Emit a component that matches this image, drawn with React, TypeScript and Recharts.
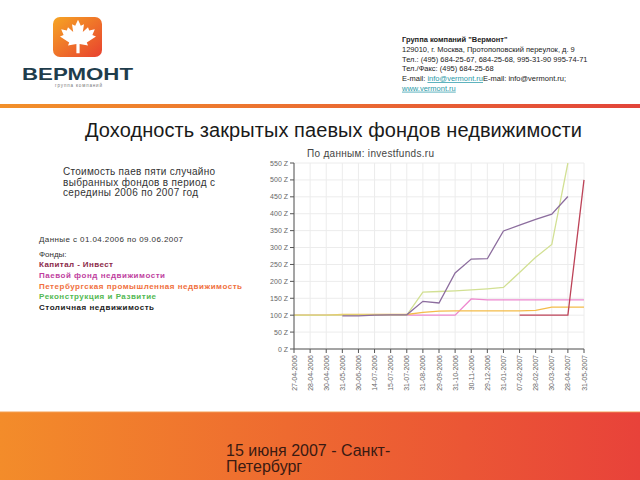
import React from 'react';
import { LineChart, Line, XAxis, YAxis, CartesianGrid } from 'recharts';

const dates = [
  '27-04-2006', '28-04-2006', '30-04-2006', '31-05-2006', '30-06-2006', '14-07-2006',
  '15-07-2006', '31-07-2006', '31-08-2006', '29-09-2006', '31-10-2006', '30-11-2006',
  '29-12-2006', '31-01-2007', '07-02-2007', '28-02-2007', '30-03-2007', '28-04-2007', '31-05-2007',
];

const kapitalInvest = [null, null, null, null, null, null, null, null, null, null, null, null, null, null, 100, 100, 100, 100, 500];
const paevoyFond = [100, 100, 100, 100, 100, 100, 100, 100, 100, 100, 100, 148, 145, 145, 145, 145, 145, 145, 145];
const peterburgskaya = [100, 100, 100, 102, 102, 102, 102, 102, 108, 112, 113, 113, 113, 113, 113, 114, 124, 124, 124];
const rekonstrukciya = [100, 100, 100, 100, 100, 100, 100, 100, 168, 170, 172, 175, 178, 182, 226, 271, 309, 550, null];
const stolichnaya = [null, null, null, 98, 98, 100, 101, 101, 141, 136, 225, 266, 267, 349, 366, 383, 399, 451, null];

const yTicks = [0, 50, 100, 150, 200, 250, 300, 350, 400, 450, 500, 550];

const legendNames = [
  'Капитал - Инвест',
  'Паевой фонд недвижимости',
  'Петербургская промышленная недвижимость',
  'Реконструкция и Развитие',
  'Столичная недвижимость',
];
const legendColors = ['#8b2a4a', '#c03fa0', '#f07040', '#52b852', '#222222'];

const data = dates.map((d, i) => ({
  date: d,
  kapital: kapitalInvest[i],
  paevoy: paevoyFond[i],
  peterb: peterburgskaya[i],
  rekon: rekonstrukciya[i],
  stol: stolichnaya[i],
}));

const FONT = '"Liberation Sans", Arial, sans-serif';

const XTick = (props: any) => {
  const { x, y, payload } = props;
  return (
    <text
      transform={`translate(${x},${y}) rotate(-90)`}
      x={0}
      y={0}
      textAnchor="end"
      dominantBaseline="central"
      fontSize={7}
      fontFamily={FONT}
      fill="#666"
    >
      {payload.value}
    </text>
  );
};

const YTick = (props: any) => {
  const { x, y, payload } = props;
  return (
    <text x={x} y={y} textAnchor="end" dominantBaseline="central" fontSize={7} fontFamily={FONT} fill="#666">
      {`${payload.value} Z`}
    </text>
  );
};

const leafPath =
  'M50,2 L57,18 L65,14 L62,34 L75,22 L78,30 L92,27 L86,42 L95,46 L72,62 L75,70 L54,66 L54,90 L46,90 L46,66 L25,70 L28,62 L5,46 L14,42 L8,27 L22,30 L25,22 L38,34 L35,14 L43,18 Z';

export default function App() {
  return (
    <div
      style={{
        position: 'absolute',
        left: 0,
        top: 0,
        width: 640,
        height: 480,
        background: '#ffffff',
        overflow: 'hidden',
        fontFamily: FONT,
      }}
    >
      <svg width={640} height={480} style={{ position: 'absolute', left: 0, top: 0 }}>
        <defs>
          <linearGradient id="logoGrad" x1="0" y1="0" x2="1" y2="1">
            <stop offset="0%" stopColor="#f6a524" />
            <stop offset="100%" stopColor="#e8412f" />
          </linearGradient>
          <linearGradient id="lineGrad" x1="0" y1="0" x2="1" y2="0">
            <stop offset="0%" stopColor="#f2902a" />
            <stop offset="55%" stopColor="#ea6a32" />
            <stop offset="100%" stopColor="#e2443a" />
          </linearGradient>
          <linearGradient id="bandGrad" x1="0" y1="0" x2="1" y2="0">
            <stop offset="0%" stopColor="#f38c2a" />
            <stop offset="45%" stopColor="#ee6a30" />
            <stop offset="100%" stopColor="#e8423a" />
          </linearGradient>
        </defs>

        {/* Logo */}
        <rect x={53} y={17} width={49} height={40} rx={7} fill="url(#logoGrad)" />
        <path d={leafPath} fill="#ffffff" transform="translate(58,19) scale(0.4,0.38)" />
        <text x={22} y={80} fontSize={17} fontWeight="bold" fill="#1f3d4c" textLength={111} lengthAdjust="spacingAndGlyphs" fontFamily={FONT}>
          ВЕРМОНТ
        </text>
        <text x={55} y={87} fontSize={4.5} fill="#777" textLength={47} fontFamily={FONT}>
          группа компаний
        </text>

        {/* Header contact block */}
        <text x={402} y={42} fontSize={7.5} fontWeight="bold" fill="#222" fontFamily={FONT}>
          Группа компаний "Вермонт"
        </text>
        <text x={402} y={52} fontSize={7.5} fill="#222" fontFamily={FONT}>
          129010, г. Москва, Протопоповский переулок, д. 9
        </text>
        <text x={402} y={61.7} fontSize={7.5} fill="#222" fontFamily={FONT}>
          Тел.: (495) 684-25-67, 684-25-68, 995-31-90 995-74-71
        </text>
        <text x={402} y={71.4} fontSize={7.5} fill="#222" fontFamily={FONT}>
          Тел./Факс: (495) 684-25-68
        </text>
        <text x={402} y={81} fontSize={7.5} fill="#222" fontFamily={FONT}>
          E-mail:{' '}
          <tspan fill="#2a9aa8" textDecoration="underline">info@vermont.ru</tspan>
          E-mail: info@vermont.ru;
        </text>
        <text x={402} y={90.7} fontSize={7.5} fill="#2a9aa8" textDecoration="underline" fontFamily={FONT}>
          www.vermont.ru
        </text>

        {/* Separator line */}
        <rect x={0} y={104} width={640} height={4} fill="url(#lineGrad)" />

        {/* Title */}
        <text x={85} y={137} fontSize={20} fill="#1a1a1a" textLength={497} fontFamily={FONT}>
          Доходность закрытых паевых фондов недвижимости
        </text>

        {/* Source */}
        <text x={307} y={157} fontSize={10} fill="#444" textLength={127} fontFamily={FONT}>
          По данным: investfunds.ru
        </text>

        {/* Left description */}
        <text x={63} y={175} fontSize={10} fill="#333" textLength={152} fontFamily={FONT}>
          Стоимость паев пяти случайно
        </text>
        <text x={63} y={185.5} fontSize={10} fill="#333" textLength={152} fontFamily={FONT}>
          выбранных фондов в период с
        </text>
        <text x={63} y={195.7} fontSize={10} fill="#333" textLength={135} fontFamily={FONT}>
          середины 2006 по 2007 год
        </text>

        <text x={39} y={241.5} fontSize={8} fill="#333" textLength={144} fontFamily={FONT}>
          Данные с 01.04.2006 по 09.06.2007
        </text>
        <text x={39} y={257.3} fontSize={8} fill="#333" fontFamily={FONT}>
          Фонды:
        </text>
        {legendNames.map((n, i) => (
          <text
            key={n}
            x={39}
            y={267.3 + i * 10.6}
            fontSize={8}
            fontWeight="bold"
            fill={legendColors[i]}
            textLength={[74, 126, 203, 117, 115][i]}
            fontFamily={FONT}
          >
            {n}
          </text>
        ))}

        {/* Bottom band */}
        <rect x={0} y={412} width={640} height={68} fill="url(#bandGrad)" />
        <rect x={0} y={411} width={640} height={1.5} fill="#f6b070" opacity={0.6} />
        <text x={226} y={456} fontSize={16} fill="#3a1a12" fontFamily={FONT}>
          15 июня 2007 - Санкт-
        </text>
        <text x={226} y={471.5} fontSize={16} fill="#3a1a12" fontFamily={FONT}>
          Петербург
        </text>
      </svg>

      <div style={{ position: 'absolute', left: 240, top: 155 }}>
        <LineChart width={360} height={250} data={data} margin={{ top: 8, right: 16, left: 24, bottom: 6 }}>
          <CartesianGrid stroke="#ececec" strokeWidth={1} />
          <XAxis
            dataKey="date"
            interval={0}
            padding={{ left: 0, right: 0 }}
            height={50}
            tick={<XTick />}
            tickSize={4}
            tickMargin={2}
            stroke="#555"
            tickLine={{ stroke: '#555' }}
          />
          <YAxis
            domain={[0, 550]}
            ticks={yTicks}
            allowDataOverflow
            width={30}
            tick={<YTick />}
            tickSize={4}
            tickMargin={2}
            stroke="#555"
            tickLine={{ stroke: '#555' }}
            interval={0}
          />
          <Line type="linear" dataKey="paevoy" stroke="#ee88cf" strokeWidth={1.3} dot={false} isAnimationActive={false} />
          <Line type="linear" dataKey="peterb" stroke="#f4bc4a" strokeWidth={1.3} dot={false} isAnimationActive={false} />
          <Line type="linear" dataKey="rekon" stroke="#d2e093" strokeWidth={1.3} dot={false} isAnimationActive={false} />
          <Line type="linear" dataKey="stol" stroke="#8c6d9e" strokeWidth={1.3} dot={false} isAnimationActive={false} />
          <Line type="linear" dataKey="kapital" stroke="#bd4358" strokeWidth={1.3} dot={false} isAnimationActive={false} />
        </LineChart>
      </div>
    </div>
  );
}
